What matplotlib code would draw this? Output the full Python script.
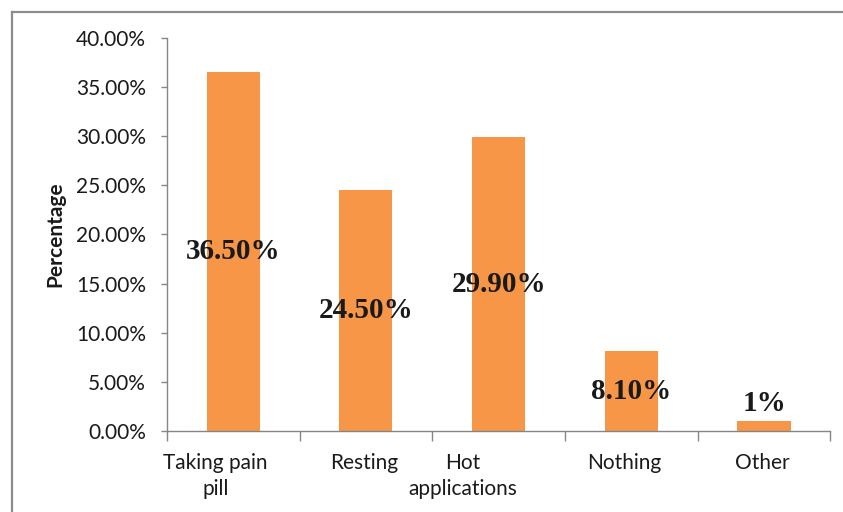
import matplotlib.pyplot as plt
import matplotlib.transforms as mtransforms
from matplotlib.lines import Line2D
from matplotlib.ticker import FuncFormatter
import numpy as np

categories = ["Taking pain\npill", "Resting", "Hot\napplications", "Nothing", "Other"]
values = [36.5, 24.5, 29.9, 8.1, 1.0]
value_labels = ["36.50%", "24.50%", "29.90%", "8.10%", "1%"]

BAR_COLOR = "#F79646"
AXIS_COLOR = "#868686"

plt.rcParams["font.family"] = ["Lato", "DejaVu Sans"]

fig = plt.figure(figsize=(8.43, 5.12), dpi=100)
ax = fig.add_axes([0.198, 0.158, 0.787, 0.768])

x = np.arange(len(categories))
bars = ax.bar(x, values, width=0.4, color=BAR_COLOR, zorder=2)

# data labels: inside the bar for tall bars, above for the tiny one
for b, v, lab in zip(bars, values, value_labels):
    cx = b.get_x() + b.get_width() / 2
    if v > 3:
        ax.text(cx, v / 2, lab, ha="center", va="center", fontsize=21,
                fontweight="bold", family="Liberation Serif", color="#1a1a1a", zorder=3)
    else:
        ax.annotate(lab, (cx, v), xytext=(0, 3), textcoords="offset points",
                    ha="center", va="bottom", fontsize=21, fontweight="bold",
                    family="Liberation Serif", color="#1a1a1a", zorder=3)

ax.set_xlim(-0.5, len(categories) - 0.5)
ax.set_ylim(0, 40)
ax.set_yticks(np.arange(0, 40.1, 5))
ax.yaxis.set_major_formatter(FuncFormatter(lambda v, p: f"{v:.2f}%"))

# ticks on the category boundaries, labels at the centres
ax.set_xticks(np.arange(-0.5, len(categories), 1.0))
ax.set_xticklabels([])
ax.set_xticks(x, minor=True)
ax.set_xticklabels(categories, minor=True, linespacing=1.35, va="top")
ax.tick_params(axis="x", which="major", length=7, width=1, color=AXIS_COLOR)
ax.tick_params(axis="x", which="minor", length=0, pad=16, labelsize=15, labelcolor="#1a1a1a")
ax.tick_params(axis="y", length=4, width=1, color=AXIS_COLOR, pad=11,
               labelsize=15, labelcolor="#1a1a1a")

# nudge wrapped labels the way the original layout sits
offsets = [-18, -2, -36, -7, -2]
for lab, dx in zip(ax.get_xticklabels(minor=True), offsets):
    lab.set_transform(lab.get_transform() + mtransforms.ScaledTranslation(dx / 100, 0, fig.dpi_scale_trans))

for side in ["top", "right"]:
    ax.spines[side].set_visible(False)
for side in ["left", "bottom"]:
    ax.spines[side].set_color(AXIS_COLOR)
    ax.spines[side].set_linewidth(1)

ax.set_ylabel("Percentage", fontsize=15, fontweight="bold", labelpad=8, color="#1a1a1a")

# outer chart frame (left and top edges visible in the crop)
fx, fy = 12 / 843, 1 - 11.5 / 512
fig.add_artist(Line2D([fx, fx], [0, fy], transform=fig.transFigure, color="#8c8c8c", lw=1.6))
fig.add_artist(Line2D([fx, 1], [fy, fy], transform=fig.transFigure, color="#8c8c8c", lw=1.6))

fig.savefig("out.png", dpi=100)
